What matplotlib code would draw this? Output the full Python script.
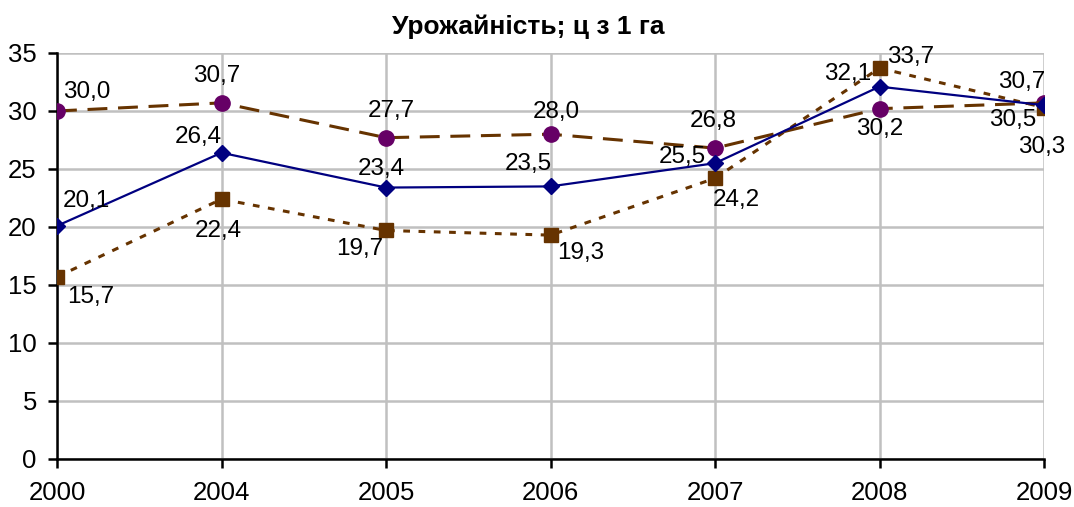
import numpy as np
import matplotlib.pyplot as plt

# -------------------------------
# --- Дані ---
# -------------------------------
roky = ["2000", "2004", "2005", "2006", "2007", "2008", "2009"]
seriya_1 = [20.1, 26.4, 23.4, 23.5, 25.5, 32.1, 30.5]
seriya_2 = [15.7, 22.4, 19.7, 19.3, 24.2, 33.7, 30.3]
seriya_3 = [30.0, 30.7, 27.7, 28.0, 26.8, 30.2, 30.7]

# зсув підписів (пікселі)
zsuv_1 = [(29, 25), (-23, 16), (-5, 19), (-22, 22), (-33, 6), (-32, 13), (-31, -15)]
zsuv_2 = [(34, -20), (-3, -32), (-26, -19), (30, -18), (21, -22), (31, 11), (-2, -39)]
zsuv_3 = [(30, 19), (-5, 27), (5, 27), (6, 22), (-2, 27), (0, -20), (-22, 21)]

plt.rcParams['font.family'] = ['Liberation Sans', 'DejaVu Sans']

fig = plt.figure(figsize=(10.74, 5.07), dpi=100)
ax = fig.add_axes([57 / 1074, 48 / 507, 987 / 1074, 406 / 507])

x = np.arange(len(roky))

ax.plot(x, seriya_3, color="#663300", lw=2.2, dashes=(6.5, 3.5),
        marker="o", ms=11, mfc="#660066", mec="#660066", zorder=3)
ax.plot(x, seriya_2, color="#663300", lw=2.2, dashes=(2.2, 2.8),
        marker="s", ms=10, mfc="#663300", mec="#663300", zorder=4)
ax.plot(x, seriya_1, color="#000080", lw=1.6,
        marker="D", ms=8.5, mfc="#000080", mec="#000080", zorder=5)

for vals, zs in [(seriya_1, zsuv_1), (seriya_2, zsuv_2), (seriya_3, zsuv_3)]:
    for i, v in enumerate(vals):
        ax.annotate(f"{v:.1f}".replace(".", ","), (x[i], v),
                    xytext=zs[i], textcoords="offset pixels",
                    ha="center", va="center", fontsize=17.5, zorder=6)

ax.set_xlim(0, len(roky) - 1)
ax.set_ylim(0, 35)
ax.set_yticks(np.arange(0, 36, 5))
ax.set_xticks(x)
ax.set_xticklabels(roky)
ax.tick_params(axis="both", labelsize=18.5, direction="out", length=6.5, width=1.8, color="black")
ax.tick_params(axis="x", pad=9)
ax.tick_params(axis="y", pad=8)

ax.grid(True, color="#c0c0c0", lw=1.8)
ax.set_axisbelow(True)
for s in ["top", "right"]:
    ax.spines[s].set_visible(False)
for s in ["left", "bottom"]:
    ax.spines[s].set_linewidth(1.8)
    ax.spines[s].set_zorder(2.5)

fig.text(528 / 1074, 1 - 27 / 507, "Урожайність; ц з 1 га", ha="center", va="center",
         fontsize=19, fontweight="bold")

fig.savefig("out.png", dpi=100)
